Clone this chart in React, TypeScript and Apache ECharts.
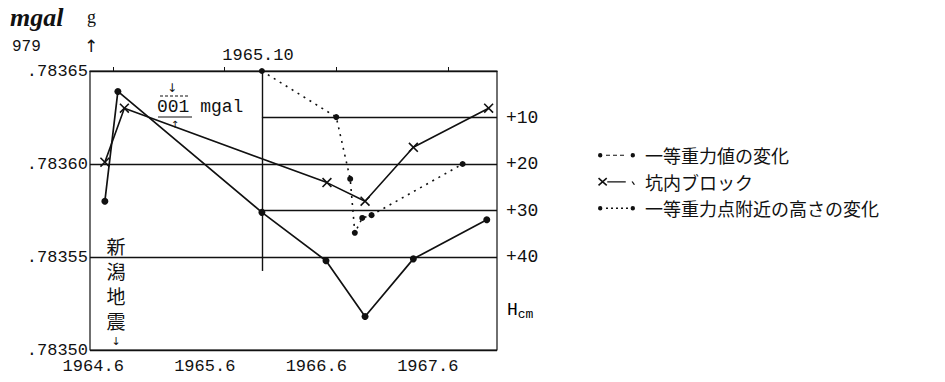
import React, { useEffect, useRef } from "react";
import * as echarts from "echarts";

// x values: months after 1964.6 (June 1964)
const xTickMonths = [0, 12, 24, 36];
const xTickLabels = ["1964.6", "1965.6", "1966.6", "1967.6"];
// left axis: 979.xxxxx gal, stored in units of 0.00001 gal
const leftTicks = [78350, 78355, 78360, 78365];
// right axis: height change H (cm)
const rightTicks = [10, 20, 30, 40];

const gravityMonths = [-0.9, 0.5, 16, 22.9, 27.1, 32.3, 40.2];
const gravityValues = [78358.0, 78363.9, 78357.4, 78354.8, 78351.8, 78354.9, 78357.0];

const blockMonths = [-0.9, 1.2, 23.0, 27.1, 32.3, 40.4];
const blockValues = [78360.1, 78363.0, 78359.0, 78358.0, 78360.9, 78363.0];

const heightMonths = [16, 24.0, 25.5, 26.0, 26.8, 27.8, 37.6];
const heightValues = [0, 9.9, 23.2, 34.8, 31.6, 31.0, 20.0];

const refMonth = 16; // 1965.10
const refHeights = [10, 30];
const seriesNames = ["一等重力値の変化", "坑内ブロック", "一等重力点附近の高さの変化"];

const X_MIN = -2.5;
const X_MAX = 41.3;

const MONO = "Liberation Mono";
const CJK = "Noto Sans CJK JP";
const INK = "#111";

const DOT_DASH_ICON =
  "path://M0,4 A2.2,2.2 0 1 1 4.4,4 A2.2,2.2 0 1 1 0,4 Z M8,3.4 L12,3.4 L12,4.6 L8,4.6 Z M15,3.4 L19,3.4 L19,4.6 L15,4.6 Z M22,3.4 L26,3.4 L26,4.6 L22,4.6 Z M32.6,4 A2.2,2.2 0 1 1 37,4 A2.2,2.2 0 1 1 32.6,4 Z";
const DOT_DOT_ICON =
  "path://M0,4 A2.2,2.2 0 1 1 4.4,4 A2.2,2.2 0 1 1 0,4 Z M8,3.3 L10,3.3 L10,4.7 L8,4.7 Z M13,3.3 L15,3.3 L15,4.7 L13,4.7 Z M18,3.3 L20,3.3 L20,4.7 L18,4.7 Z M23,3.3 L25,3.3 L25,4.7 L23,4.7 Z M28,3.3 L30,3.3 L30,4.7 L28,4.7 Z M32.6,4 A2.2,2.2 0 1 1 37,4 A2.2,2.2 0 1 1 32.6,4 Z";
const CROSS_ICON =
  "path://M0,1.8 L0.9,0.8 L8,7.2 L7.1,8.2 Z M0,7.2 L7.1,0.8 L8,1.8 L0.9,8.2 Z M8,4 L24,4 L24,5.1 L8,5.1 Z M29,4.5 L30,4 L32,6.8 L31,7.3 Z";
const CROSS_SYMBOL =
  "path://M0,0.9 L0.9,0 L8,7.1 L7.1,8 Z M0,7.1 L7.1,0 L8,0.9 L0.9,8 Z";

function zip(xs: number[], ys: number[]) {
  return xs.map((x, i) => [x, ys[i]]);
}

export default function App() {
  const ref = useRef<HTMLDivElement>(null);

  useEffect(() => {
    if (!ref.current) return;
    const chart = echarts.init(ref.current, null, { renderer: "svg" });

    const option: any = {
      animation: false,
      backgroundColor: "#fff",
      grid: {
        left: 90,
        right: 448,
        top: 71,
        bottom: 32,
        show: true,
        borderColor: INK,
        borderWidth: 1.2,
        backgroundColor: "transparent",
      },
      legend: {
        orient: "vertical",
        left: 593,
        top: 137,
        itemWidth: 37,
        itemHeight: 9,
        itemGap: 0,
        selectedMode: false,
        textStyle: {
          fontFamily: CJK,
          fontSize: 18,
          color: INK,
          lineHeight: 26.5,
          padding: [0, 0, 0, 5],
        },
        data: [
          { name: seriesNames[0], icon: DOT_DASH_ICON, itemStyle: { color: INK, borderWidth: 0 } },
          { name: seriesNames[1], icon: CROSS_ICON, itemStyle: { color: INK, borderWidth: 0 } },
          { name: seriesNames[2], icon: DOT_DOT_ICON, itemStyle: { color: INK, borderWidth: 0 } },
        ],
      },
      xAxis: {
        type: "value",
        min: X_MIN,
        max: X_MAX,
        axisLine: { show: true, lineStyle: { color: INK, width: 1.2 } },
        axisTick: {
          show: true,
          inside: true,
          length: 4,
          customValues: xTickMonths,
          lineStyle: { color: INK },
        },
        splitLine: { show: false },
        axisLabel: {
          customValues: xTickMonths,
          formatter: (v: number) => {
            const i = xTickMonths.indexOf(Math.round(v));
            return i >= 0 ? xTickLabels[i] : "";
          },
          fontFamily: MONO,
          fontSize: 17,
          color: INK,
          margin: 8,
          padding: [0, 40, 0, 0],
        },
      },
      yAxis: [
        {
          type: "value",
          min: leftTicks[0],
          max: leftTicks[leftTicks.length - 1],
          interval: 5,
          axisLine: { show: false },
          axisTick: { show: false },
          splitLine: { show: true, lineStyle: { color: INK, width: 1.4 } },
          axisLabel: {
            formatter: (v: number) => "." + Math.round(v),
            fontFamily: MONO,
            fontSize: 17,
            color: INK,
            margin: 2,
          },
        },
        {
          type: "value",
          min: 0,
          max: 60,
          inverse: true,
          position: "right",
          axisLine: { show: false },
          axisTick: { show: false },
          splitLine: { show: false },
          axisLabel: {
            customValues: rightTicks,
            formatter: (v: number) => "+" + Math.round(v),
            fontFamily: MONO,
            fontSize: 18,
            color: INK,
            margin: 9,
          },
        },
      ],
      series: [
        {
          name: seriesNames[0],
          type: "line",
          yAxisIndex: 0,
          data: zip(gravityMonths, gravityValues),
          symbol: "circle",
          symbolSize: 7,
          itemStyle: { color: INK },
          lineStyle: { color: INK, width: 1.7, type: "solid" },
          z: 5,
        },
        {
          name: seriesNames[1],
          type: "line",
          yAxisIndex: 0,
          data: zip(blockMonths, blockValues),
          symbol: CROSS_SYMBOL,
          symbolSize: 10,
          itemStyle: { color: INK },
          lineStyle: { color: INK, width: 1.6, type: "solid" },
          z: 5,
        },
        {
          name: seriesNames[2],
          type: "line",
          yAxisIndex: 1,
          data: zip(heightMonths, heightValues),
          symbol: "circle",
          symbolSize: 6,
          itemStyle: { color: INK },
          lineStyle: { color: INK, width: 1.6, type: [2, 5] },
          z: 5,
          markLine: {
            silent: true,
            symbol: ["none", "none"],
            label: { show: false },
            lineStyle: { color: INK, width: 1.4, type: "solid" },
            data: [
              ...refHeights.map((h) => [{ coord: [refMonth, h] }, { coord: [X_MAX, h] }]),
              [{ coord: [refMonth, 0] }, { coord: [refMonth, 43] }],
            ],
          },
        },
      ],
      graphic: [
        {
          type: "text",
          left: 10,
          top: 4,
          style: { text: "mgal", font: "italic bold 26px 'Liberation Serif'", fill: INK },
        },
        {
          type: "text",
          left: 87,
          top: 8,
          style: { text: "g", font: "18px 'Liberation Serif'", fill: INK },
        },
        {
          type: "text",
          left: 12,
          top: 39,
          style: { text: "979", font: `16px '${MONO}'`, fill: INK },
        },
        {
          type: "text",
          left: 84,
          top: 37,
          style: { text: "↑", font: "17px 'DejaVu Sans'", fill: INK },
        },
        {
          type: "text",
          x: 258,
          y: 55,
          style: {
            text: "1965.10",
            font: `17px '${MONO}'`,
            fill: INK,
            align: "center",
            verticalAlign: "middle",
          },
        },
        {
          type: "text",
          x: 157,
          y: 107,
          style: {
            text: "001 mgal",
            font: `18px '${MONO}'`,
            fill: INK,
            align: "left",
            verticalAlign: "middle",
          },
        },
        {
          type: "line",
          shape: { x1: 158, y1: 117, x2: 192, y2: 117 },
          style: { stroke: INK, lineWidth: 1.2 },
        },
        {
          type: "line",
          shape: { x1: 160, y1: 96, x2: 190, y2: 96 },
          style: { stroke: INK, lineWidth: 1, lineDash: [3, 2] },
        },
        {
          type: "text",
          x: 172,
          y: 88,
          style: {
            text: "↓",
            font: "12px 'DejaVu Sans'",
            fill: INK,
            align: "center",
            verticalAlign: "middle",
          },
        },
        {
          type: "text",
          x: 175,
          y: 124,
          style: {
            text: "↑",
            font: "10px 'DejaVu Sans'",
            fill: INK,
            align: "center",
            verticalAlign: "middle",
          },
        },
        {
          type: "text",
          x: 116,
          y: 233,
          style: {
            text: "新\n潟\n地\n震",
            font: `19px '${CJK}'`,
            lineHeight: 25,
            fill: INK,
            align: "center",
            verticalAlign: "top",
          },
        },
        {
          type: "text",
          x: 116,
          y: 341,
          style: {
            text: "↓",
            font: "11px 'DejaVu Sans'",
            fill: INK,
            align: "center",
            verticalAlign: "middle",
          },
        },
        {
          type: "text",
          x: 507,
          y: 310,
          style: {
            text: "{h|H}{s|cm}",
            rich: {
              h: { fontFamily: MONO, fontSize: 18, color: INK },
              s: { fontFamily: MONO, fontSize: 13, color: INK, padding: [8, 0, 0, 0] },
            },
            verticalAlign: "middle",
          },
        },
      ],
    };

    chart.setOption(option);
    return () => chart.dispose();
  }, []);

  return (
    <div
      ref={ref}
      style={{ position: "fixed", left: 0, top: 0, width: 945, height: 382, background: "#fff" }}
    />
  );
}
